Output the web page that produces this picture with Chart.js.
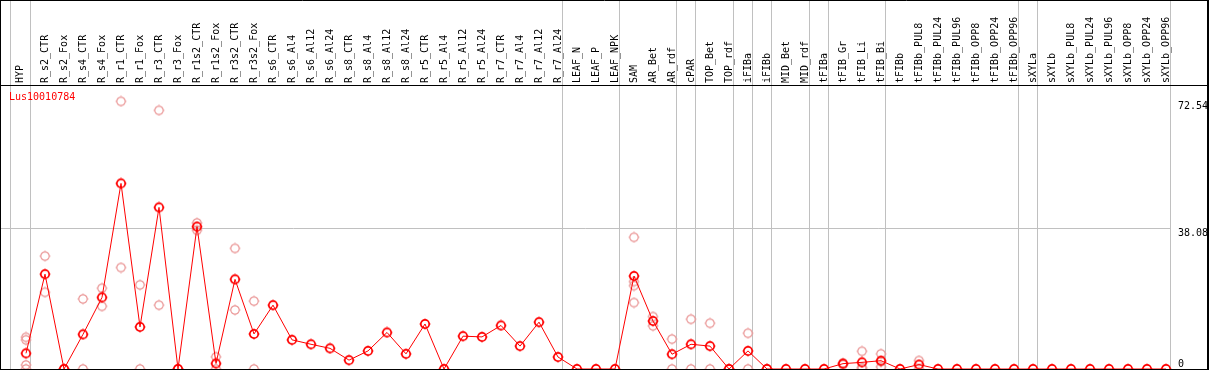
<!DOCTYPE html>
<html><head><meta charset="utf-8">
<script src="https://cdn.jsdelivr.net/npm/chart.js@4/dist/chart.umd.min.js"></script>
<style>html,body{margin:0;padding:0;background:#fff;}canvas{display:block;}</style>
</head><body>
<canvas id="c" width="1209" height="370"></canvas>
<script>
const geneName = 'Lus10010784';
const categories = ['HYP','R_s2_CTR','R_s2_Fox','R_s4_CTR','R_s4_Fox','R_r1_CTR','R_r1_Fox','R_r3_CTR','R_r3_Fox',
  'R_r1s2_CTR','R_r1s2_Fox','R_r3s2_CTR','R_r3s2_Fox','R_s6_CTR','R_s6_Al4','R_s6_Al12','R_s6_Al24',
  'R_s8_CTR','R_s8_Al4','R_s8_Al12','R_s8_Al24','R_r5_CTR','R_r5_Al4','R_r5_Al12','R_r5_Al24',
  'R_r7_CTR','R_r7_Al4','R_r7_Al12','R_r7_Al24','LEAF_N','LEAF_P','LEAF_NPK','SAM','AR_Bet','AR_rdf',
  'cPAR','TOP_Bet','TOP_rdf','iFIBa','iFIBb','MID_Bet','MID_rdf','tFIBa','tFIB_Gr','tFIB_Li','tFIB_Bi',
  'tFIBb','tFIBb_PUL8','tFIBb_PUL24','tFIBb_PUL96','tFIBb_OPP8','tFIBb_OPP24','tFIBb_OPP96','sXYLa',
  'sXYLb','sXYLb_PUL8','sXYLb_PUL24','sXYLb_PUL96','sXYLb_OPP8','sXYLb_OPP24','sXYLb_OPP96'];
const meanValues = [4.25,25.7,0,9.4,19.4,50.3,11.4,43.8,0,38.6,1.5,24.3,9.5,17.3,7.9,6.7,5.6,2.4,4.9,9.9,4.1,
  12.2,0,8.9,8.7,11.8,6.2,12.7,3.25,0,0,0,25.2,13.0,4.0,6.7,6.2,0,4.9,0,0,0,0,1.45,1.8,2.25,0,1.2,
  0,0,0,0,0,0,0,0,0,0,0,0,0];
const replicateValues = [
  [8.6,7.9,1.1,0],[30.6,20.8],[0,0],[19.0,0],[21.9,17.0],[72.54,27.5],[22.8,0],[70.1,17.3],[0,0],
  [39.6,37.6],[3.3,0],[32.7,16.0],[18.4,0],[],[],[],[],[],[],[],[],[],[],[],[],[],[],[],[],
  [],[],[],[35.7,23.7,22.6,18.0],[14.2,11.7],[8.1,0],[13.5,0],[12.4,0],[0,0],[9.7,0],[0,0],[],[],[],
  [1.6,1.2],[4.8,0.4,0.2],[4.1,2.0,0.6],[],[2.3,0],[],[],[],[],[],[],[],[],[],[],[],[],[]];
const yTickValues = [0, 38.08, 72.54];
const groupEnds = [-1,0,28,31,34,35,37,38,39,41,42,45,52,53,60];

const FONT = {family:"'DejaVu Sans Mono', monospace", size:10};

function marker(color, lw) {
  const c = document.createElement('canvas');
  c.width = 12; c.height = 12;
  const g = c.getContext('2d');
  g.strokeStyle = color;
  g.lineWidth = lw;
  g.beginPath(); g.arc(6, 6, 4.2, 0, Math.PI*2); g.stroke();
  g.lineWidth = 1;
  g.beginPath();
  g.moveTo(6, 0.5); g.lineTo(6, 1.8);
  g.moveTo(6, 10.2); g.lineTo(6, 11.5);
  g.moveTo(0.5, 6); g.lineTo(1.8, 6);
  g.moveTo(10.2, 6); g.lineTo(11.5, 6);
  g.stroke();
  return c;
}
const redMarker = marker('#ff0000', 1.7);
const pinkMarker = marker('#eb9a9a', 1.2);

const meanPoints = meanValues.map((v, i) => ({x: i, y: v}));
const repPoints = [];
replicateValues.forEach((arr, i) => arr.forEach(v => repPoints.push({x: i, y: v})));

const X_MIN = -25/19, X_MAX = -25/19 + 1206/19;

function flatY(s) { s.width = 0; s.paddingTop = 0; s.paddingBottom = 0; s.paddingLeft = 0; s.paddingRight = 0; }

const framePlugin = {
  id: 'frame',
  beforeDraw(chart) {
    const g = chart.ctx, ca = chart.chartArea;
    const xs = chart.scales.x, ys = chart.scales.y;
    g.save();
    g.fillStyle = '#fff'; g.fillRect(0, 0, chart.width, chart.height);
    g.strokeStyle = '#c0c0c0'; g.lineWidth = 1;
    g.beginPath();
    let lastX = 0;
    groupEnds.forEach(i => {
      const x = Math.round(xs.getPixelForValue(i)) + (i < 0 ? 3.5 : 4.5);
      lastX = x;
      g.moveTo(x, 0); g.lineTo(x, chart.height);
    });
    const gy = Math.floor(ys.getPixelForValue(yTickValues[1])) + 0.5;
    g.moveTo(ca.left, gy); g.lineTo(lastX, gy);
    g.stroke();
    g.strokeStyle = '#000';
    g.beginPath();
    g.moveTo(0, 0.5); g.lineTo(1209, 0.5);
    g.moveTo(0, 85.5); g.lineTo(1208, 85.5);
    g.moveTo(0, 369.5); g.lineTo(1208, 369.5);
    g.moveTo(0.5, 0); g.lineTo(0.5, 370);
    g.stroke();
    g.lineWidth = 2;
    g.beginPath(); g.moveTo(1208, 0); g.lineTo(1208, 370); g.stroke();
    g.fillStyle = '#ff0000';
    g.font = "10px 'DejaVu Sans Mono', monospace";
    g.textBaseline = 'middle';
    g.fillText(geneName, 9, 97);
    g.restore();
  }
};

new Chart(document.getElementById('c'), {
  type: 'line',
  data: {
    datasets: [
      {label: 'replicates', data: repPoints, showLine: false, pointStyle: pinkMarker,
       pointRadius: 4, pointHoverRadius: 4, order: 2},
      {label: 'mean', data: meanPoints, borderColor: '#ff0000', borderWidth: 1, tension: 0,
       pointStyle: redMarker, pointRadius: 4, pointHoverRadius: 4, order: 1}
    ]
  },
  options: {
    responsive: false, animation: false, devicePixelRatio: 1,
    layout: {autoPadding: false, padding: {left: 1, right: 2, top: 0, bottom: 1}},
    plugins: {legend: {display: false}, tooltip: {enabled: false}, title: {display: false}},
    scales: {
      x: {
        type: 'linear', position: 'top', min: X_MIN, max: X_MAX, bounds: 'data',
        grid: {display: false, drawTicks: false}, border: {display: false},
        afterBuildTicks: s => { s.ticks = categories.map((c, i) => ({value: i === 0 ? -0.32 : i})); },
        afterFit: s => { s.height = 86; s.paddingLeft = 0; s.paddingRight = 0; s.paddingTop = 0; s.paddingBottom = 0; },
        ticks: {autoSkip: false, minRotation: 90, maxRotation: 90, padding: 3, labelOffset: 12,
                color: '#000', font: FONT, callback: (v, i) => categories[i]}
      },
      y: {
        type: 'linear', position: 'left', min: 0, max: 76.7,
        grid: {display: false, drawTicks: false}, border: {display: false},
        afterBuildTicks: s => { s.ticks = yTickValues.slice(1).map(v => ({value: v})); },
        afterFit: flatY,
        ticks: {mirror: true, padding: 1177, align: 'start', color: '#000', font: FONT,
                callback: v => String(v)}
      },
      y2: {
        type: 'linear', axis: 'y', position: 'left', min: 0, max: 76.7,
        grid: {display: false, drawTicks: false}, border: {display: false},
        afterBuildTicks: s => { s.ticks = [{value: yTickValues[0]}]; },
        afterFit: flatY,
        ticks: {mirror: true, padding: 1177, align: 'end', color: '#000', font: FONT,
                callback: v => String(v)}
      }
    }
  },
  plugins: [framePlugin]
});
</script>
</body></html>
